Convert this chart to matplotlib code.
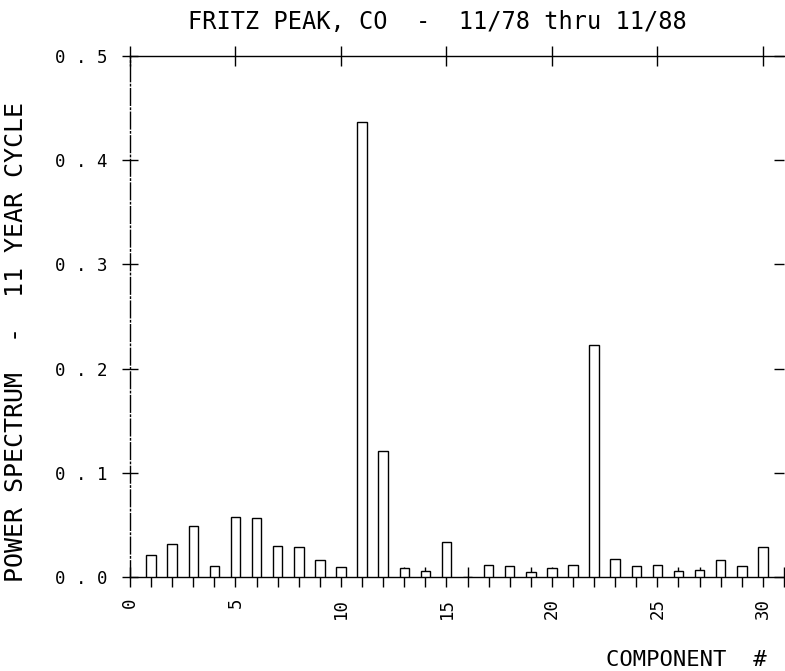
import numpy as np
import matplotlib
matplotlib.use('Agg')
import matplotlib.pyplot as plt
from matplotlib.ticker import MultipleLocator, FuncFormatter, NullFormatter

components = list(range(1, 31))
power = [0.021, 0.032, 0.049, 0.011, 0.058, 0.057, 0.030, 0.029, 0.016, 0.010,
         0.437, 0.121, 0.009, 0.006, 0.034, 0.0, 0.012, 0.011, 0.005, 0.009,
         0.012, 0.223, 0.017, 0.011, 0.012, 0.006, 0.007, 0.016, 0.011, 0.029]
title = 'FRITZ PEAK, CO  -  11/78 thru 11/88'
ylabel = 'POWER SPECTRUM  -  11 YEAR CYCLE'
xlabel = 'COMPONENT  #'

plt.rcParams['font.family'] = ['DejaVu Sans Mono']

fig = plt.figure(figsize=(7.85, 6.71), dpi=100)
ax = fig.add_axes([0.1656, 0.140, 0.8331, 0.7765])

ax.bar(components, power, width=0.45, facecolor='white', edgecolor='black', linewidth=1.0, zorder=3)

ax.set_xlim(0, 31)
ax.set_ylim(0, 0.5)

ax.xaxis.set_major_locator(MultipleLocator(5))
ax.xaxis.set_minor_locator(MultipleLocator(1))
ax.yaxis.set_major_locator(MultipleLocator(0.1))

ax.tick_params(axis='x', which='major', direction='inout', length=14, width=1.0,
               top=True, labelrotation=90, labelsize=12.5, pad=8)
ax.tick_params(axis='x', which='minor', direction='inout', length=14, width=1.0, top=False)
ax.tick_params(axis='y', which='major', direction='inout', length=12, width=1.0,
               right=False, labelsize=12.5, pad=10)
ax.yaxis.set_major_formatter(FuncFormatter(lambda v, p: ' '.join(f'{v:.1f}')))
ax.xaxis.set_major_formatter(FuncFormatter(lambda v, p: f'{v:.0f}'))

for s in ax.spines.values():
    s.set_linewidth(1.0)
ax.spines['left'].set_linestyle((0, (12, 2, 1, 2)))
ax.spines['right'].set_visible(False)

# short inward ticks on the right edge
sec = ax.secondary_yaxis('right')
sec.yaxis.set_major_locator(MultipleLocator(0.1))
sec.yaxis.set_major_formatter(NullFormatter())
sec.tick_params(direction='in', length=7, width=1.0)
sec.spines['right'].set_visible(False)

fig.text(0.557, 0.967, title, fontsize=17, ha='center', va='center')
fig.text(0.021, 0.49, ylabel, fontsize=18, rotation=90, ha='center', va='center')
fig.text(0.976, 0.016, xlabel, fontsize=16, ha='right', va='center')

fig.savefig('out.png', dpi=100)
